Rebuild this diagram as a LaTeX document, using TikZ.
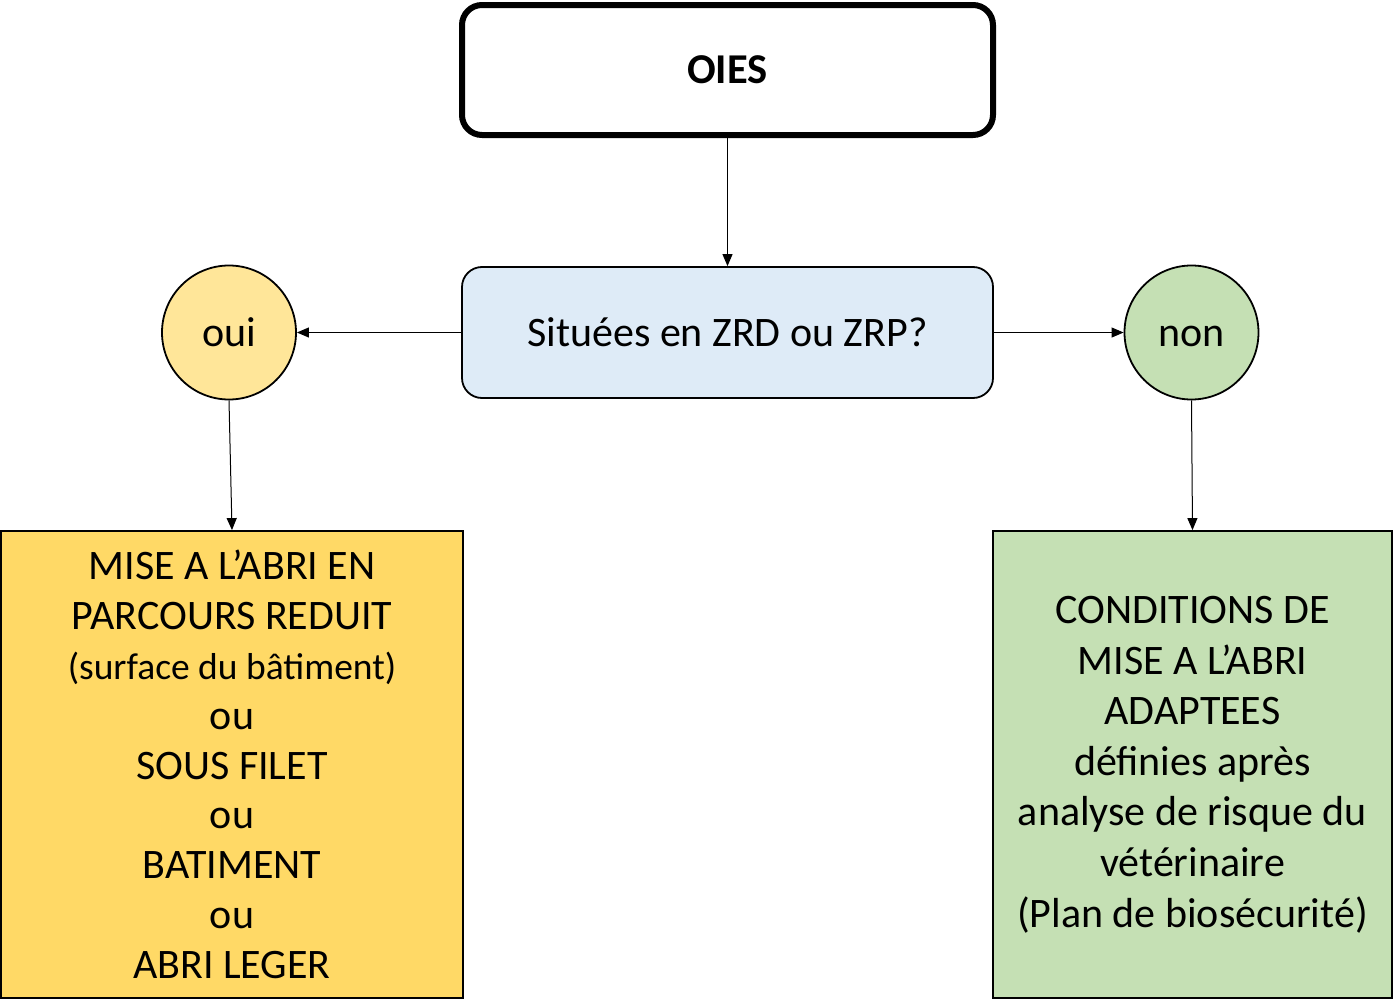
\documentclass[tikz,border=0pt]{standalone}
\usepackage{fontspec}
\setmainfont{Carlito}
\usetikzlibrary{arrows.meta}
\definecolor{bluefill}{HTML}{DEEBF7}
\definecolor{ouifill}{HTML}{FFE699}
\definecolor{leftfill}{HTML}{FFD966}
\definecolor{greenfill}{HTML}{C5E0B4}
\tikzset{
  conn/.style={draw, line width=1pt, -{Triangle[length=12pt,width=10pt]}},
  rbox/.style={draw, rounded corners=20pt, minimum width=531pt, minimum height=131pt, inner sep=0pt},
  circ/.style={draw, circle, line width=1.8pt, minimum size=134pt, inner sep=0pt, text height=28pt, text depth=0pt, font=\fontsize{42}{46}\selectfont},
  bigbox/.style={draw, line width=1.8pt, inner sep=0pt, align=center}
}
\begin{document}
\begin{tikzpicture}[x=1pt,y=-1pt]
\useasboundingbox (0,0) rectangle (1393,1001);
\node[rbox, line width=6pt, minimum height=130pt, font=\bfseries\fontsize{42.5}{46}\selectfont] (oies) at (727.5,70) {OIES};
\node[rbox, line width=1.8pt, fill=bluefill, font=\fontsize{42}{46}\selectfont] (q) at (727.5,332.5) {Situées en ZRD ou ZRP?};
\node[circ, fill=ouifill] (oui) at (229,332.5) {oui};
\node[circ, fill=greenfill] (non) at (1191.5,332.5) {non};
\node[bigbox, fill=leftfill, minimum width=462pt, minimum height=467pt, font=\fontsize{42}{49.8}\selectfont] (left) at (232,764.5) {MISE A L’ABRI EN\\PARCOURS REDUIT\\{\fontsize{37.5}{49.8}\selectfont (surface du bâtiment)}\\ou\\SOUS FILET\\ou\\BATIMENT\\ou\\ABRI LEGER};
\node[bigbox, fill=greenfill, minimum width=399pt, minimum height=467pt, font=\fontsize{42}{50.6}\selectfont] (right) at (1192.5,764.5) {CONDITIONS DE\\MISE A L’ABRI\\ADAPTEES\\définies après\\analyse de risque du\\vétérinaire\\(Plan de biosécurité)};
\draw[conn] (oies.south) -- (q.north);
\draw[conn] (q.west) -- (oui.east);
\draw[conn] (q.east) -- (non.west);
\draw[conn] (oui.south) -- (left.north);
\draw[conn] (non.south) -- (right.north);
\end{tikzpicture}
\end{document}
